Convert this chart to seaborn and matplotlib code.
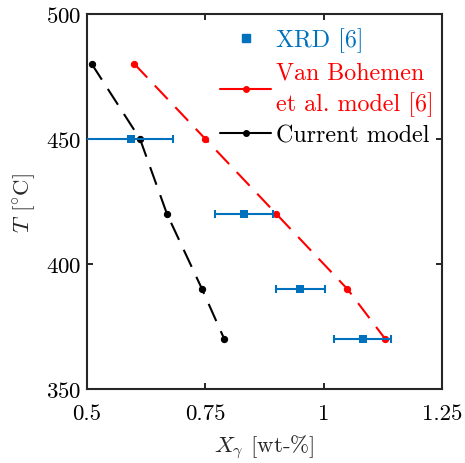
import matplotlib
matplotlib.use("Agg")
import matplotlib.pyplot as plt
from matplotlib.lines import Line2D
import seaborn as sns
import pandas as pd

# Retained austenite fraction vs. transformation temperature
temps = [480, 450, 420, 390, 370]
vb_model = [0.60, 0.75, 0.90, 1.05, 1.13]
cur_model = [0.51, 0.612, 0.669, 0.743, 0.79]

xrd_temps = [450, 420, 390, 370]
xrd_vals = [0.593, 0.832, 0.95, 1.083]
xrd_lo = [0.48, 0.77, 0.90, 1.022]
xrd_hi = [0.682, 0.893, 1.003, 1.142]

xticks = [0.5, 0.75, 1, 1.25]
xtick_labels = ["0.5", "0.75", "1", "1.25"]
yticks = [350, 400, 450, 500]

sns.set_style("ticks")
plt.rcParams["mathtext.fontset"] = "cm"
plt.rcParams["font.family"] = ["cmr10", "DejaVu Serif"]
plt.rcParams["axes.formatter.use_mathtext"] = True
plt.rcParams["axes.unicode_minus"] = False

blue = "#0072BD"
red = "#FF0000"
fs = 16.5
lfs = 17.3

fig = plt.figure(figsize=(4.65, 4.64), dpi=100)
ax = fig.add_axes([0.187, 0.159, 0.764, 0.809])

df = pd.DataFrame({"T": temps, "vb": vb_model, "cur": cur_model})
sns.lineplot(data=df, x="vb", y="T", sort=False, color=red, marker="o",
             markersize=4.5, linewidth=1.5, ax=ax, legend=False)
sns.lineplot(data=df, x="cur", y="T", sort=False, color="black", marker="o",
             markersize=4.5, linewidth=1.5, ax=ax, legend=False)
for ln in ax.lines:
    ln.set_dashes([9, 5.3])
    ln.set_markeredgecolor(ln.get_color())

xerr = [[v - lo for v, lo in zip(xrd_vals, xrd_lo)],
        [hi - v for v, hi in zip(xrd_vals, xrd_hi)]]
ax.errorbar(xrd_vals, xrd_temps, xerr=xerr, fmt="none", ecolor=blue,
            elinewidth=1.5, capsize=3, capthick=1.5, zorder=3)
sns.scatterplot(x=xrd_vals, y=xrd_temps, marker="s", color=blue, s=34,
                edgecolor=blue, linewidth=0, ax=ax, zorder=4, legend=False)

ax.set_xlim(0.5, 1.25)
ax.set_ylim(350, 500)
ax.set_xticks(xticks)
ax.set_xticklabels(xtick_labels)
ax.set_yticks(yticks)
ax.tick_params(direction="in", top=True, right=True, length=4, width=1.2,
               labelsize=fs, colors="black")
ax.tick_params(axis="x", pad=10)
ax.tick_params(axis="y", pad=4)
for sp in ax.spines.values():
    sp.set_visible(True)
    sp.set_linewidth(1.5)
ax.set_xlabel(r"$X_\gamma$ [wt-%]", fontsize=fs, labelpad=7)
ax.set_ylabel(r"$T$ [$^{\circ}$C]", fontsize=fs, labelpad=6)

handles = [
    Line2D([], [], linestyle="none", marker="s", markersize=5.5, color=blue),
    Line2D([], [], linestyle="-", marker="o", markersize=4, color=red, lw=1.5),
    Line2D([], [], linestyle="-", marker="o", markersize=4, color="black", lw=1.5),
]
labels = ["XRD [6]", "Van Bohemen\net al. model [6]", "Current model"]
leg = ax.legend(handles, labels, loc="upper right",
                bbox_to_anchor=(0.975, 0.963), frameon=False, fontsize=lfs,
                handlelength=2.1, handletextpad=0.2, borderaxespad=0,
                labelspacing=0.35, borderpad=0)
for txt, c in zip(leg.get_texts(), [blue, red, "black"]):
    txt.set_color(c)
    txt.set_linespacing(1.45)

fig.savefig("out.png", dpi=100)
